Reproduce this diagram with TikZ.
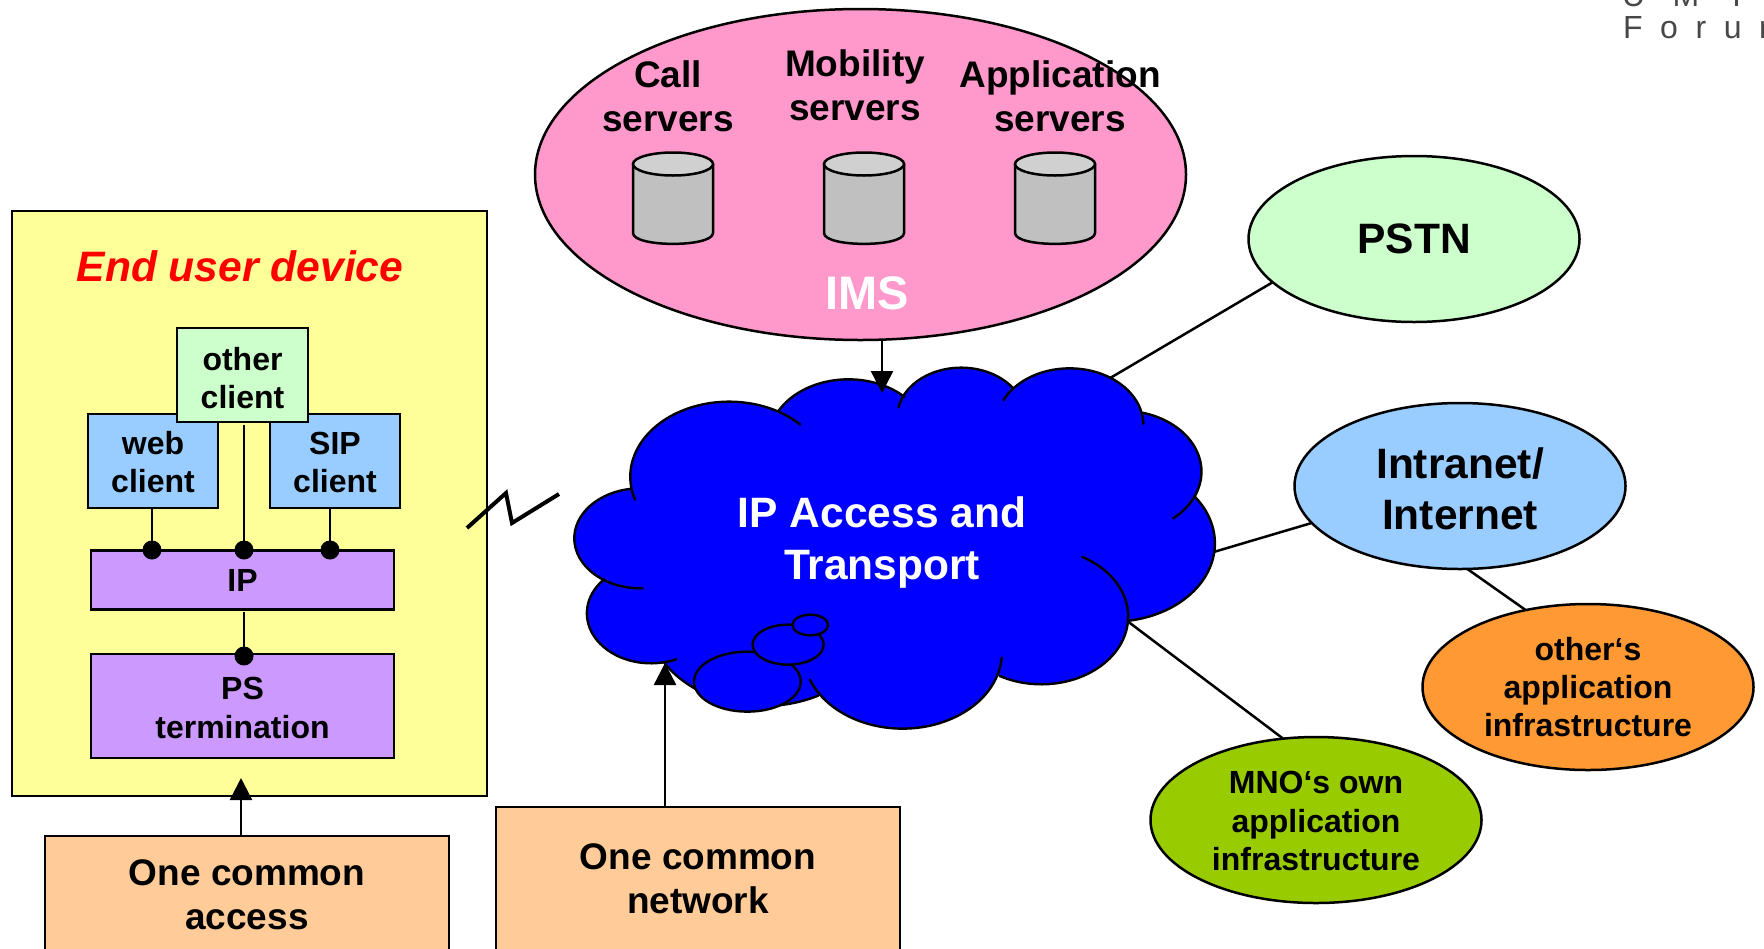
\documentclass[tikz,border=0pt]{standalone}
\usepackage{fontspec}
\setmainfont{Liberation Sans}
\usetikzlibrary{shapes.geometric,arrows.meta}
\pgfdeclarelayer{bg}
\pgfsetlayers{bg,main}
\definecolor{yellowbox}{HTML}{FFFF99}
\definecolor{greenbox}{HTML}{CCFFCC}
\definecolor{bluebox}{HTML}{99CCFF}
\definecolor{purplebox}{HTML}{CC99FF}
\definecolor{peach}{HTML}{FFCC99}
\definecolor{pinkims}{HTML}{FF99CC}
\definecolor{orangeell}{HTML}{FF9933}
\definecolor{limeell}{HTML}{99CC00}
\definecolor{cloudblue}{HTML}{0000FF}
\definecolor{cylbody}{HTML}{C0C0C0}
\definecolor{cyltop}{HTML}{D0D0D0}
\newcommand{\fpx}[1]{\fontsize{\fpeval{#1*0.5}}{\fpeval{#1*0.6}}\selectfont}
\newcommand{\tp}[1]{\rule{0pt}{#1}}
\newcommand{\cloudarc}[6]{%
  \draw[cloudline] plot[domain=#5:#6,samples=50,smooth] ({#1+#3*cos(\x)},{#2+#4*sin(\x)});}
\newcommand{\cloudfill}[4]{\fill[cloudblue] (#1,#2) ellipse [x radius=#3,y radius=#4];}
\newcommand{\dbcyl}[1]{%
  \begin{scope}[shift={(#1,0)}]
  \draw[line,fill=cylbody,line join=round] (-40,164) -- (-40,233) .. controls (-40,247.5) and (40,247.5) .. (40,233) -- (40,164) -- cycle;
  \draw[line,fill=cyltop] (0,164) ellipse [x radius=40,y radius=11.5];
  \end{scope}}
\tikzset{
  every node/.style={outer sep=0pt,inner sep=0pt,font=\bfseries,align=center},
  px/.style={x=0.5pt,y=-0.5pt},
  line/.style={line width=1.25pt,draw=black},
  cloudline/.style={line width=1.2pt,draw=black,line cap=round},
  box/.style={rectangle,line width=1.25pt,draw=black,minimum width=#1*0.5pt},
  h/.style={minimum height=#1*0.5pt},
  ell/.style={ellipse,line width=1.25pt,draw=black,minimum width=331*0.5pt,minimum height=166*0.5pt},
  dotn/.style={circle,fill=black,minimum size=19*0.5pt},
  biglbl/.style={font=\bfseries\fpx{37}},
  arrowup/.style={line width=1.25pt,-{Triangle[length=11pt,width=11pt]}}
}
\begin{document}
\begin{tikzpicture}[px]
\clip (0,0) rectangle (1764,948);
% logo
\node[anchor=base west,font=\fpx{32},text=black!72] (logoa) at (1622,6) {\addfontfeature{LetterSpace=86}UMTS};
\node[anchor=base west,font=\fpx{32},text=black!72] (logob) at (1623,38) {\addfontfeature{LetterSpace=55}Forum};
% device
\node[box=475,h=585,fill=yellowbox] (device) at (249.5,503.5) {};
\node[font=\bfseries\itshape\fpx{42.6},text=red] (devlabel) at (240,266) {End user device};
\node[box=130,h=94,fill=bluebox,font=\bfseries\fpx{32}] (web) at (153,461) {\tp{12.8pt}web\\client};
\node[box=130,h=94,fill=bluebox,font=\bfseries\fpx{32}] (sip) at (335,461) {\tp{12.8pt}SIP\\client};
\node[box=131,h=94,fill=greenbox,font=\bfseries\fpx{32}] (other) at (242.5,375) {\tp{14.5pt}other\\client};
\node[box=303,h=59,fill=purplebox,font=\bfseries\fpx{32}] (ip) at (242.5,580) {IP};
\node[box=303,h=104,fill=purplebox,font=\bfseries\fpx{32}] (ps) at (242.5,706) {\tp{13pt}PS\\termination};
\node[dotn] (d1) at (152,550) {};
\node[dotn] (d2) at (244,550) {};
\node[dotn] (d3) at (330,550) {};
\node[dotn] (d4) at (244,656) {};
\draw[line] (d1 |- web.south) -- (d1);
\coordinate (o2) at (244,425);
\draw[line] (o2) -- (d2);
\draw[line] (d3 |- sip.south) -- (d3);
\coordinate (i2) at (244,612);
\draw[line] (i2) -- (d4);
% radio link
\coordinate (r1) at (467,528);
\coordinate (r2) at (506,493);
\coordinate (r3) at (512,523);
\coordinate (r4) at (559,494);
\draw[line width=2pt] (r1) -- (r2) -- (r3) -- (r4);
% bottom boxes
\node[box=404,h=117,fill=peach,font=\bfseries\fpx{37}] (access) at (247,894.5) {One common\\access};
\node[box=404,h=144,fill=peach,font=\bfseries\fpx{37}] (network) at (698,879) {One common\\network};
% IMS
\node[ell,minimum width=651*0.5pt,minimum height=331*0.5pt,fill=pinkims] (ims) at (860.5,174.5) {};
\node[biglbl] (call) at (668,96) {Call\\servers};
\node[biglbl] (mob) at (855,85.5) {Mobility\\servers};
\node[biglbl] (app) at (1060,96) {Application\\servers};
\dbcyl{673}
\dbcyl{864}
\dbcyl{1055}
\node[font=\bfseries\fpx{47},text=white] (imslbl) at (867,293) {IMS};
% outer ellipses
\node[ell,fill=greenbox,font=\bfseries\fpx{42.5}] (pstn) at (1414,239) {PSTN};
\node[ell,fill=bluebox,font=\bfseries\fpx{42.5}] (inet) at (1460,486) {\tp{18pt}Intranet/\\Internet};
\node[ell,fill=orangeell,font=\bfseries\fpx{32}] (others) at (1588,687) {other‘s\\application\\infrastructure};
\node[ell,fill=limeell,font=\bfseries\fpx{32}] (mno) at (1316,820) {\tp{12.5pt}MNO‘s own\\application\\infrastructure};
% connectors behind the cloud
\coordinate (c1) at (1100,384);
\coordinate (c2) at (1190,559);
\coordinate (c3) at (1110,608);
\begin{pgfonlayer}{bg}
\draw[line] (pstn.197.5) -- (c1);
\draw[line] (inet.194.6) -- (c2);
\draw[line] (mno.112) -- (c3);
\draw[line] (inet.275.5) -- (others.129);
\end{pgfonlayer}
% cloud
\begin{scope}[shift={(560,350)},xscale=0.4337,yscale=0.3333]
\fill[cloudblue] (300,400) -- (670,200) -- (1175,200) -- (1300,600) -- (1100,900) -- (790,1000) -- (300,900) -- (150,600) -- cycle;
\cloudfill{390}{380}{228}{225}
\cloudfill{665}{268}{183}{180}
\cloudfill{925}{200}{147}{147}
\cloudfill{1175}{225}{170}{170}
\cloudfill{1296}{365}{183}{183}
\cloudfill{1275}{580}{235}{235}
\cloudfill{1110}{800}{200}{203}
\cloudfill{790}{907}{229}{229}
\cloudfill{470}{800}{268}{268}
\cloudfill{210}{790}{148}{150}
\cloudfill{185}{565}{152}{150}
\cloudarc{390}{380}{228}{225}{162}{316}
\cloudarc{665}{268}{183}{180}{208}{315}
\cloudarc{925}{200}{147}{147}{191}{325}
\cloudarc{1175}{225}{170}{170}{206}{359}
\cloudarc{1296}{365}{183}{183}{285}{410}
\cloudarc{1275}{580}{235}{235}{-37}{81}
\cloudarc{1110}{800}{200}{203}{-62}{119}
\cloudarc{790}{907}{229}{229}{4}{159}
\cloudarc{470}{800}{268}{268}{62}{149}
\cloudarc{210}{790}{148}{150}{67}{223}
\cloudarc{185}{565}{152}{150}{88}{262}
\draw[cloudline,fill=cloudblue] (432,995) ellipse [x radius=123,y radius=90];
\draw[cloudline,fill=cloudblue] (526,884) ellipse [x radius=82,y radius=60];
\draw[cloudline,fill=cloudblue] (577,825) ellipse [x radius=41,y radius=31];
\end{scope}
\node[font=\bfseries\fpx{42.5},text=white] (cloudlbl) at (882,542.5) {IP Access and\\Transport};
% arrows
\coordinate (tipims) at (882,393);
\draw[arrowup] (tipims |- ims.south) -- (tipims);
\coordinate (tipnet) at (665,663);
\draw[arrowup] (tipnet |- network.north) -- (tipnet);
\coordinate (tipdev) at (241,778);
\draw[arrowup] (tipdev |- access.north) -- (tipdev);
\end{tikzpicture}
\end{document}
